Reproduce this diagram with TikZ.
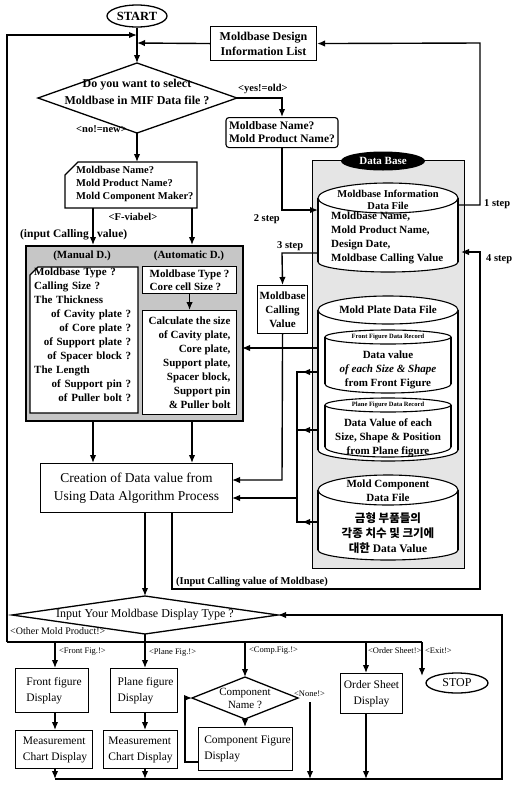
\documentclass[tikz,border=0pt]{standalone}
\usepackage{fontspec}
\setmainfont{Liberation Serif}
\newfontfamily\krfont{Noto Sans CJK KR}
\usetikzlibrary{shapes.geometric,arrows.meta}
\newcommand\myStart{\fontsize{12.5}{15}\selectfont\bfseries}
\newcommand\myB{\fontsize{12}{15}\selectfont\bfseries}
\newcommand\myD{\fontsize{12}{17}\selectfont\bfseries}
\newcommand\myC{\fontsize{11.5}{13}\selectfont\bfseries}
\newcommand\myCc{\fontsize{10.5}{13}\selectfont\bfseries}
\newcommand\myM{\fontsize{11}{14}\selectfont\bfseries}
\newcommand\myMb{\fontsize{11}{13}\selectfont\bfseries}
\newcommand\myH{\fontsize{10.5}{12}\selectfont\bfseries}
\newcommand\myCr{\fontsize{13.5}{18}\selectfont}
\newcommand\myLab{\fontsize{10.5}{12}\selectfont\bfseries}
\newcommand\myR{\fontsize{11.5}{16}\selectfont}
\newcommand\myRl{\fontsize{8.5}{10}\selectfont}
\newcommand\myRo{\fontsize{10}{12}\selectfont}
\newcommand\myTiny{\fontsize{6.5}{7}\selectfont\bfseries}
\newcommand\myK{\fontsize{11.5}{15}\selectfont\bfseries}
\newcommand\mycyl[6]{%
 \fill[white] (#1,#3) rectangle (#2,#5);
 \fill[white] ({(#1+#2)/2},#5) ellipse [x radius={(#2-#1)/2}, y radius={#6}];
 \draw[line width=1.1pt] (#1,#3) -- (#1,#5) (#2,#3) -- (#2,#5);
 \begin{scope}
 \clip (#1-3,#5) rectangle (#2+3,#5+#6+3);
 \draw[line width=1.1pt] ({(#1+#2)/2},#5) ellipse [x radius={(#2-#1)/2}, y radius={#6}];
 \end{scope}
 \draw[line width=1.1pt,fill=white] ({(#1+#2)/2},#3) ellipse [x radius={(#2-#1)/2}, y radius={#4}];
}
\begin{document}
\begin{tikzpicture}[x=1pt,y=-1pt,
  ln/.style={line width=1.4pt},
  arr/.style={line width=1.4pt,-{Latex[length=8pt,width=6.5pt]}},
  bx/.style={draw,line width=1.1pt,fill=white,inner sep=0pt,anchor=north west},
  lab/.style={font=\myLab,inner sep=1pt},
  labr/.style={font=\myRl,inner sep=1pt}]
\useasboundingbox (0,0) rectangle (515,788);

% ---------- top ----------
\node[ellipse,draw,line width=1.3pt,minimum width=60pt,minimum height=22pt,inner sep=0pt,font=\myStart] (start) at (137,16) {START};
\node[bx,minimum width=106pt,minimum height=34pt,align=center,font=\myB] (info) at (210,26) {Moldbase Design\\Information List};

\coordinate (d1n) at (137,63); \coordinate (d1e) at (237,98);
\coordinate (d1s) at (137,133); \coordinate (d1w) at (38,98);
\draw[line width=1.3pt,fill=white] (d1n)--(d1e)--(d1s)--(d1w)--cycle;
\node[font=\myD,align=center,inner sep=0pt] (d1t) at (137,92) {Do you want to select\\Moldbase in MIF Data file ?};

\coordinate (j1) at (137,43);
\coordinate (j0) at (137,35);
\draw[arr] (start) -- (d1n);
\draw[arr] (info.west) -- (j1);

% yes branch
\node[bx,rounded corners=3pt,minimum width=112pt,minimum height=30pt,align=left,font=\myC,anchor=north] (mbn) at (282,117) {Moldbase Name?\\Mold Product Name?};
\coordinate (ye) at (282,98);
\draw[arr] (d1e) -- (ye) -- (mbn.north);
\node[lab,anchor=south west] (yes) at (237,95) {<yes!=old>};

% no branch
\draw[line width=1.1pt,fill=white] (78,162) -- (197,162) -- (197,208) -- (65,208) -- (65,175) -- cycle;
\coordinate (cardN) at (137,162);
\node[anchor=north west,align=left,font=\myCc,inner sep=0pt] (cardt) at (76,166) {Moldbase Name?\\Mold Product Name?\\Mold Component Maker?};
\draw[arr] (d1s) -- (cardN);
\node[lab,anchor=east] (no) at (128,129) {<no!=new>};
\node[lab] (fv) at (133,217) {<F-viabel>};

% ---------- design box ----------
\node[bx,line width=1.9pt,fill=gray!45,minimum width=217pt,minimum height=175pt] (big) at (25,245) {};
\coordinate (cA) at (93,208); \coordinate (bA) at (93,245);
\coordinate (cB) at (192,208); \coordinate (bB) at (192,245);
\draw[arr] (cA) -- (bA);
\draw[arr] (cB) -- (bB);
\node[lab,font=\myC,anchor=east] (ic1) at (90,235) {(input Calling};
\node[lab,font=\myC,anchor=west] (ic2) at (96,235) {value)};

\node[font=\myM] (manl) at (82,256) {(Manual D.)};
\node[font=\myM] (autl) at (189,256) {(Automatic D.)};
\draw[line width=1.1pt,fill=white] (38,267) -- (138,267) -- (138,413) -- (30,413) -- (30,275) -- cycle;
\node[anchor=north west,align=left,text width=97pt,font=\myM,inner sep=0pt] (mant) at (34,268) {Moldbase Type ?\\Calling Size ?\\The Thickness\\\mbox{}\hfill of Cavity plate ?\\\mbox{}\hfill of Core plate ?\\\mbox{}\hfill of Support plate ?\\\mbox{}\hfill of Spacer block ?\\The Length\\\mbox{}\hfill of Support pin ?\\\mbox{}\hfill of Puller bolt ?};

\node[bx,minimum width=94pt,minimum height=27pt,align=left,font=\myMb] (auto) at (142,266) {Moldbase Type ?\\Core cell Size ?};
\node[bx,minimum width=94pt,minimum height=104pt,align=right,font=\myM] (calc) at (142,310) {Calculate the size\\of Cavity plate,\\Core plate,\\Support plate,\\Spacer block,\\Support pin\\\& Puller bolt};
\draw[arr] (auto.south) -- (calc.north);

% ---------- creation ----------
\node[bx,minimum width=192pt,minimum height=49pt,align=center,font=\myCr] (cre) at (40,463) {Creation of Data value from\\Using Data Algorithm Process};
\coordinate (bC) at (93,420); \coordinate (crA) at (93,463);
\coordinate (bD) at (192,420); \coordinate (crB) at (192,463);
\draw[arr] (bC) -- (crA);
\draw[arr] (bD) -- (crB);

% ---------- data base ----------
\draw[line width=0.6pt,fill=gray!20] (312,160) rectangle (464,568);
\mycyl{318}{458}{198}{15}{262}{10}
\mycyl{318}{458}{310}{14}{450}{11}
\mycyl{325}{451}{337}{7}{384}{9}
\mycyl{325}{451}{405}{7}{447}{10}
\mycyl{318}{458}{490}{15}{550}{10}
\node[ellipse,fill=black,text=white,font=\myM,minimum width=84pt,minimum height=19pt,inner sep=0pt] (dbl) at (383,161) {Data Base};

\node[font=\myH,align=center,inner sep=0pt] (c1h) at (388,200) {Moldbase Information\\Data File};
\node[anchor=north west,align=left,font=\myM,inner sep=0pt] (c1b) at (331,212) {Moldbase Name,\\Mold Product Name,\\Design Date,\\Moldbase Calling Value};
\node[font=\myM,inner sep=0pt] (c2h) at (388,310) {Mold Plate Data File};
\node[font=\myTiny,inner sep=0pt] (frl) at (388,337) {Front Figure Data Record};
\node[font=\myM,align=center,inner sep=0pt] (frb) at (388,370) {Data value\\{\itshape of each Size \& Shape}\\from Front Figure};
\node[font=\myTiny,inner sep=0pt] (pll) at (388,405) {Plane Figure Data Record};
\node[font=\myM,align=center,inner sep=0pt] (plb) at (388,438) {Data Value of each\\Size, Shape \& Position\\from Plane figure};
\node[font=\myM,align=center,inner sep=0pt] (c3h) at (388,491) {Mold Component\\Data File};
\node[font=\myK,align=center,inner sep=0pt] (c3b) at (388,533) {{\krfont 금형 부품들의}\\{\krfont 각종 치수 및 크기에}\\{\krfont 대한} Data Value};

% step connectors
\coordinate (c1r1) at (458,205); \coordinate (s1a) at (480,205); \coordinate (s1b) at (480,43);
\draw[arr] (c1r1) -- (s1a) -- (s1b) -- (info.east);
\node[lab,anchor=west] (s1l) at (483,204) {1 step};

\coordinate (s2a) at (282,210); \coordinate (c1l1) at (318,210);
\draw[arr] (mbn.south) -- (s2a) -- (c1l1);
\node[lab,anchor=east] (s2l) at (281,219) {2 step};

\node[bx,minimum width=50pt,minimum height=48pt,align=center,font=\myM] (mcv) at (257,285) {Moldbase\\Calling\\Value};
\coordinate (c1l2) at (318,253); \coordinate (s3a) at (282,253);
\draw[arr] (c1l2) -- (s3a) -- (mcv.north);
\node[lab,anchor=west] (s3l) at (276,246) {3 step};

\coordinate (c2l) at (318,348); \coordinate (bigE) at (242,348);
\draw[arr] (c2l) -- (bigE);

\coordinate (m1) at (282,480); \coordinate (creE1) at (232,480);
\draw[arr] (mcv.south) -- (m1) -- (creE1);

\coordinate (fr) at (318,372); \coordinate (frx) at (297,372);
\coordinate (pl) at (318,430); \coordinate (plx) at (297,430);
\coordinate (cm) at (318,522); \coordinate (cmx) at (297,522);
\coordinate (bus2) at (297,498); \coordinate (creE2) at (232,498);
\draw[ln] (fr) -- (frx) -- (cmx) -- (cm);
\draw[ln] (pl) -- (plx);
\draw[arr] (fr) -- (302,372);
\draw[arr] (pl) -- (302,430);
\draw[arr] (cm) -- (302,522);
\draw[arr] (bus2) -- (creE2);

% input calling value back to DB (4 step)
\coordinate (k1) at (172,512); \coordinate (k2) at (172,589);
\coordinate (k3) at (480,589); \coordinate (k4) at (480,252); \coordinate (c1r2) at (461,252);
\draw[arr] (k1) -- (k2) -- (k3) -- (k4) -- (c1r2);
\node[lab,anchor=west] (s4l) at (485,259) {4 step};
\node[lab,anchor=south west] (icv) at (175,588) {(Input Calling value of Moldbase)};

% ---------- display selection ----------
\coordinate (d2n) at (145,596); \coordinate (d2e) at (278,615);
\coordinate (d2s) at (145,634); \coordinate (d2w) at (12,615);
\draw[line width=1.3pt,fill=white] (d2n)--(d2e)--(d2s)--(d2w)--cycle;
\node[font=\fontsize{12}{14}\selectfont,inner sep=0pt] (d2t) at (145,615) {Input Your Moldbase Display Type ?};
\coordinate (cre1) at (145,512);
\draw[arr] (cre1) -- (d2n);

\coordinate (b0) at (145,642); \coordinate (bl) at (7,642); \coordinate (br) at (422,642);
\draw[ln] (d2s) -- (b0);
\draw[ln] (bl) -- (br);
\draw[arr] (bl) -- (7,35) -- (j0);
\node[font=\myRo,inner sep=1pt,anchor=west] (oth) at (9,631) {<Other Mold Product!>};

% branches
\node[bx,minimum width=73pt,minimum height=44pt,align=left,font=\myR] (front) at (15,668) {\hspace{4pt}Front figure\\\hspace{4pt}Display};
\node[bx,minimum width=77pt,minimum height=38pt,align=left,font=\myR] (meas1) at (15,730) {\hspace{2pt}Measurement\\\hspace{2pt}Chart Display};
\node[bx,minimum width=67pt,minimum height=44pt,align=left,font=\myR] (plane) at (110,668) {\hspace{3pt}Plane figure\\\hspace{3pt}Display};
\node[bx,minimum width=74pt,minimum height=38pt,align=left,font=\myR] (meas2) at (103,730) {Measurement\\Chart Display};

\coordinate (fb) at (55,642); \coordinate (ft) at (55,668);
\coordinate (pb) at (145,642); \coordinate (pt) at (145,668);
\draw[arr] (fb) -- (ft);
\draw[arr] (pb) -- (pt);
\node[labr,anchor=west] (lf) at (58,652) {<Front Fig.!>};
\node[labr,anchor=west] (lp) at (148,652) {<Plane Fig.!>};
\coordinate (f1) at (55,712); \coordinate (f2) at (55,730);
\coordinate (p1) at (145,712); \coordinate (p2) at (145,730);
\draw[arr] (f1) -- (f2);
\draw[arr] (p1) -- (p2);

% component diamond
\coordinate (d3n) at (245,677); \coordinate (d3e) at (298,698);
\coordinate (d3s) at (245,719); \coordinate (d3w) at (192,698);
\draw[line width=1.3pt,fill=white] (d3n)--(d3e)--(d3s)--(d3w)--cycle;
\node[font=\fontsize{11}{13}\selectfont,align=center,inner sep=0pt] (d3t) at (245,698) {Component\\Name ?};
\coordinate (cpb) at (245,642);
\draw[arr] (cpb) -- (d3n);
\node[labr,anchor=west] (lc) at (248,651) {<Comp.Fig.!>};
\node[bx,minimum width=94pt,minimum height=43pt,align=left,font=\myR] (comp) at (198,727) {\hspace{4pt}Component Figure\\\hspace{4pt}Display};
\draw[arr] (d3s) -- (d3s |- comp.north);
\coordinate (lp1) at (198,762); \coordinate (lp2) at (185,762); \coordinate (lp3) at (185,698);
\draw[arr] (lp1) -- (lp2) -- (lp3) -- (d3w);
\node[labr,anchor=west] (none) at (293,694) {<None!>};

% order sheet / stop
\node[bx,minimum width=62pt,minimum height=40pt,align=center,font=\myR] (order) at (340,673) {Order Sheet\\Display};
\coordinate (ob) at (366,642);
\draw[arr] (ob) -- (order.north -| ob);
\node[labr,anchor=west] (lo) at (367,651) {<Order Sheet!>};
\node[ellipse,draw,line width=1.3pt,minimum width=62pt,minimum height=20pt,inner sep=0pt,font=\fontsize{12}{14}\selectfont] (stop) at (457,683) {STOP};
\coordinate (eb) at (422,642); \coordinate (et) at (422,676);
\draw[arr] (eb) -- (et);
\node[labr,anchor=west] (le) at (424,651) {<Exit!>};

% return to display type
\coordinate (g1) at (55,768); \coordinate (g1b) at (55,779);
\coordinate (g2) at (145,768); \coordinate (g2b) at (145,779);
\coordinate (g3) at (310,702); \coordinate (g3b) at (310,779);
\coordinate (g4) at (366,713); \coordinate (g4b) at (366,779);
\draw[arr] (g1) -- (g1b);
\draw[arr] (g2) -- (g2b);
\draw[arr] (g3) -- (g3b);
\draw[arr] (g4) -- (g4b);
\coordinate (r1) at (502,779); \coordinate (r2) at (502,615);
\draw[arr] (g1b) -- (r1) -- (r2) -- (d2e);
\end{tikzpicture}
\end{document}
